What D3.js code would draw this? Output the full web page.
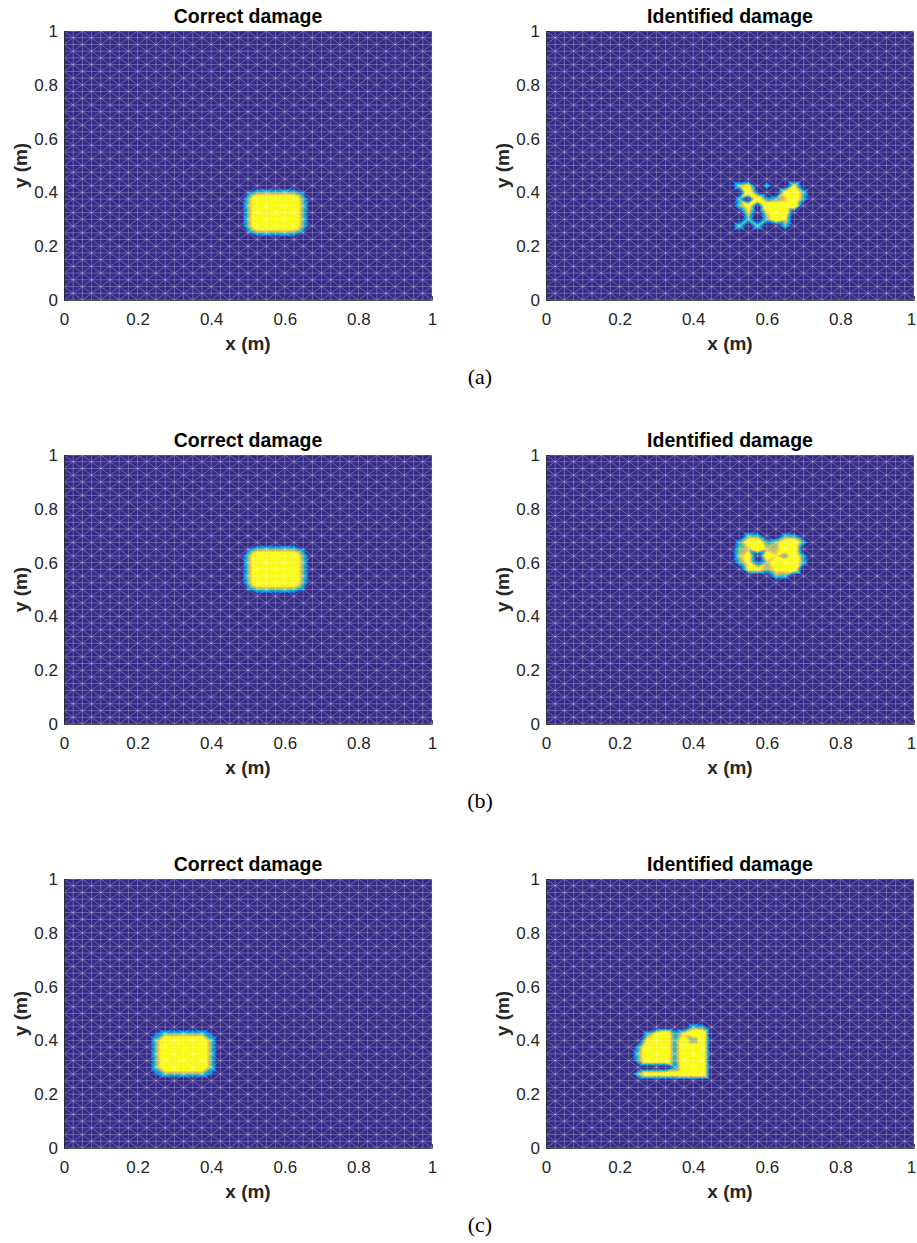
<!DOCTYPE html>
<html><head><meta charset="utf-8">
<script src="https://cdn.jsdelivr.net/npm/d3@7"></script>
<style>body{margin:0;background:#fff}</style>
</head><body>
<svg id="chart" width="917" height="1243"></svg>
<script>
// ---------------- data ----------------
const meshDivisions = 40;                       // 40 x 40 square cells, each split in two triangles
const tickValues = [0, 0.2, 0.4, 0.6, 0.8, 1];
const tickLabels = ["0", "0.2", "0.4", "0.6", "0.8", "1"];
const panelTitles = ["Correct damage", "Identified damage"];
const xLabel = "x (m)";
const yLabel = "y (m)";
const captions = ["(a)", "(b)", "(c)"];

// correct damage zones: [x0, x1, y0, y1] in metres
const correctDamageA = [0.5, 0.65, 0.25, 0.4];
const correctDamageB = [0.5, 0.65, 0.5, 0.65];
const correctDamageC = [0.25, 0.4, 0.275, 0.425];

// identified damage: nodal values [i, j, value] (node at x=i/40, y=j/40)
const identifiedDamageA = [
  [21,17,0.55],[22,17,0.8],[22,16,1],[23,16,0.2],[23,15,1],[24,15,0.35],[24,14,1],[24,17,0.5],
  [25,14,1],[26,14,1],[24,13,0.7],[25,13,1],[26,13,1],[24,12,0.5],[25,12,1],[26,12,0.7],
  [25,15,0.45],[26,15,0.6],[26,16,0.8],[27,17,0.7],[27,16,1],[27,15,1],[27,14,1],[28,16,0.45],[28,15,0.45],
  [21,14,0.5],[22,14,0.9],[22,13,0.7],[22,12,0.5],[21,15,0.4],
  [21,11,0.5],[23,11,0.5],[26,11,0.5]
];
const identifiedDamageB = [
  [22,28,0.45],[23,28,0.45],[22,27,1],[23,27,1],[21,27,0.4],[24,27,0.45],
  [21,26,0.55],[22,26,0.6],[23,26,1],[21,25,0.55],[22,25,0.9],[24,25,1],[24,26,0.6],
  [21,24,0.45],[22,24,0.8],[23,24,0.25],[22,23,0.8],[23,23,0.8],[24,23,0.55],[24,24,0.55],
  [25,27,0.55],[26,27,1],[27,27,1],[28,27,0.45],[26,28,0.4],[27,28,0.4],
  [26,26,1],[25,26,0.55],[25,25,0.7],[26,25,0.4],[27,26,1],[27,25,1],[27,24,1],[27,23,0.9],
  [25,24,1],[26,24,1],[25,23,0.8],[26,23,0.9],[25,22,0.55],[26,22,0.4],[28,25,0.4],[28,24,0.4]
];
const identifiedDamageC = [
  [11,17,0.4],[12,17,0.8],[13,17,1],[11,16,0.8],[12,16,1],[13,16,1],[11,15,1],[12,15,1],[13,15,1],
  [11,14,1],[12,14,1],[13,14,1],[11,13,1],[12,13,1],[13,13,1],
  [10,15,0.4],[10,14,0.45],[10,13,0.45],
  [14,17,0.4],[14,16,0.4],[14,15,0.4],[14,14,0.4],[14,13,0.4],[14,12,0.3],
  [15,17,0.7],[16,17,1],[17,17,1],[15,16,1],[16,16,0.4],[17,16,1],[15,15,1],[16,15,1],[17,15,1],
  [15,14,1],[16,14,1],[17,14,1],[15,13,1],[16,13,1],[17,13,1],[15,12,1],[16,12,1],[17,12,1],
  [15,11,1],[16,11,1],[17,11,1],
  [16,18,0.45],[17,18,0.4],
  [10,11,0.55],[11,11,0.9],[12,11,0.9],[13,11,0.9],[14,11,0.9]
];

// parula colormap and colour limits
const parulaStops = [0, 0.125, 0.25, 0.375, 0.5, 0.625, 0.75, 0.875, 1];
const parulaColors = ["#352a87","#0363e1","#1485d4","#06a7c6","#38b99e","#92bf73","#d9ba56","#fcce2e","#f9fb0e"];
const colorLimits = [0.2, 0.75];

// ---------------- layout ----------------
const plotW = 368, plotH = 269;
const colX = [64, 546];
const rowY = [31, 455, 879];
const rowStep = 424;

const svg = d3.select("#chart");
const cNorm = d3.scaleLinear().domain(colorLimits).range([0, 1]).clamp(true);
const parula = d3.scaleLinear().domain(parulaStops).range(parulaColors).clamp(true);
const color = (v) => parula(cNorm(v));
const N = meshDivisions;

function emptyGrid() {
  return d3.range(N + 1).map(() => new Float64Array(N + 1));
}
function gridFromRect(r) {
  const g = emptyGrid();
  const inside = (ci, cj) => (ci + 0.5) / N > r[0] && (ci + 0.5) / N < r[1] && (cj + 0.5) / N > r[2] && (cj + 0.5) / N < r[3];
  for (let i = 0; i <= N; i++) for (let j = 0; j <= N; j++) {
    let c = 0, t = 0;
    for (const [di, dj] of [[-1,-1],[0,-1],[-1,0],[0,0]]) {
      const ci = i + di, cj = j + dj;
      if (ci < 0 || cj < 0 || ci >= N || cj >= N) continue;
      t++; if (inside(ci, cj)) c++;
    }
    g[i][j] = t ? c / t : 0;
  }
  return g;
}
function gridFromList(list) {
  const g = emptyGrid();
  list.forEach(([i, j, v]) => { g[i][j] = v; });
  return g;
}
function valueAt(g, x, y) {
  const fx = Math.min(Math.max(x * N, 0), N - 1e-9), fy = Math.min(Math.max(y * N, 0), N - 1e-9);
  const i = Math.floor(fx), j = Math.floor(fy), u = fx - i, w = fy - j;
  const V00 = g[i][j], V10 = g[i + 1][j], V01 = g[i][j + 1], V11 = g[i + 1][j + 1];
  if ((i + j) % 2 === 0) {           // diagonal "/"
    if (u >= w) return V00 + u * (V10 - V00) + w * (V11 - V10);
    return V00 + w * (V01 - V00) + u * (V11 - V01);
  } else {                            // diagonal "\"
    if (u + w <= 1) return V00 + u * (V10 - V00) + w * (V01 - V00);
    return V11 + (1 - u) * (V01 - V11) + (1 - w) * (V10 - V11);
  }
}

function drawPanel(x0, y0, grid, title, isRight) {
  const xs = d3.scaleLinear().domain([0, 1]).range([x0, x0 + plotW]);
  const ys = d3.scaleLinear().domain([0, 1]).range([y0 + plotH, y0]);
  const g = svg.append("g");

  // field image
  const canvas = document.createElement("canvas");
  canvas.width = plotW; canvas.height = plotH;
  const ctx = canvas.getContext("2d");
  const img = ctx.createImageData(plotW, plotH);
  for (let r = 0; r < plotH; r++) {
    const y = ys.invert(y0 + r + 0.5);
    for (let c = 0; c < plotW; c++) {
      const x = xs.invert(x0 + c + 0.5);
      const col = d3.rgb(color(valueAt(grid, x, y)));
      const k = (r * plotW + c) * 4;
      img.data[k] = col.r; img.data[k + 1] = col.g; img.data[k + 2] = col.b; img.data[k + 3] = 255;
    }
  }
  ctx.putImageData(img, 0, 0);
  g.append("image").attr("x", x0).attr("y", y0).attr("width", plotW).attr("height", plotH)
    .attr("preserveAspectRatio", "none").attr("href", canvas.toDataURL());

  // mesh
  const p = d3.path();
  for (let k = 0; k <= N; k++) {
    p.moveTo(xs(k / N), ys(0)); p.lineTo(xs(k / N), ys(1));
    p.moveTo(xs(0), ys(k / N)); p.lineTo(xs(1), ys(k / N));
  }
  for (let i = 0; i < N; i++) for (let j = 0; j < N; j++) {
    if ((i + j) % 2 === 0) { p.moveTo(xs(i / N), ys(j / N)); p.lineTo(xs((i + 1) / N), ys((j + 1) / N)); }
    else { p.moveTo(xs((i + 1) / N), ys(j / N)); p.lineTo(xs(i / N), ys((j + 1) / N)); }
  }
  g.append("path").attr("d", p.toString()).attr("fill", "none")
    .attr("stroke", "rgba(255,255,255,0.34)").attr("stroke-width", 0.8);

  // axes
  const fmt = (d) => tickLabels[tickValues.indexOf(d)];
  const ax = g.append("g").attr("transform", `translate(0,${y0 + plotH})`)
    .call(d3.axisBottom(xs).tickValues(tickValues).tickFormat(fmt).tickSizeInner(-4).tickSizeOuter(0).tickPadding(13));
  const ay = g.append("g").attr("transform", `translate(${x0},0)`)
    .call(d3.axisLeft(ys).tickValues(tickValues).tickFormat(fmt).tickSizeInner(-4).tickSizeOuter(0).tickPadding(6));
  [ax, ay].forEach(a => {
    a.selectAll("path, line").attr("stroke", "#262626").attr("stroke-width", 0.8);
    a.selectAll("text").attr("font-family", "'Liberation Sans', Arial, sans-serif")
      .attr("font-size", 17).attr("fill", "#262626");
  });
  if (isRight) {
    // keep the last x tick label inside the page edge
    ax.selectAll(".tick text").filter(d => d === 1).attr("text-anchor", "end").attr("dx", "0.1em");
  }

  // labels
  g.append("text").attr("x", x0 + plotW / 2).attr("y", y0 - 8).attr("text-anchor", "middle")
    .attr("font-family", "'Liberation Sans', Arial, sans-serif").attr("font-weight", "bold")
    .attr("font-size", 19.5).attr("fill", "#000").text(title);
  g.append("text").attr("x", x0 + plotW / 2).attr("y", y0 + plotH + 50).attr("text-anchor", "middle")
    .attr("font-family", "'Liberation Sans', Arial, sans-serif").attr("font-weight", "bold")
    .attr("font-size", 19).attr("fill", "#262626").text(xLabel);
  g.append("text").attr("transform", `translate(${x0 - 37},${y0 + plotH / 2}) rotate(-90)`)
    .attr("text-anchor", "middle")
    .attr("font-family", "'Liberation Sans', Arial, sans-serif").attr("font-weight", "bold")
    .attr("font-size", 19).attr("fill", "#262626").text(yLabel);
}

const rows = [
  [gridFromRect(correctDamageA), gridFromList(identifiedDamageA)],
  [gridFromRect(correctDamageB), gridFromList(identifiedDamageB)],
  [gridFromRect(correctDamageC), gridFromList(identifiedDamageC)]
];
rows.forEach((pair, r) => {
  pair.forEach((grid, c) => drawPanel(colX[c], rowY[r], grid, panelTitles[c], c === 1));
  svg.append("text").attr("x", 480).attr("y", 383.5 + r * rowStep).attr("text-anchor", "middle")
    .attr("font-family", "'Liberation Serif', 'Times New Roman', serif").attr("font-size", 22)
    .attr("fill", "#000").text(captions[r]);
});
</script>
</body></html>
